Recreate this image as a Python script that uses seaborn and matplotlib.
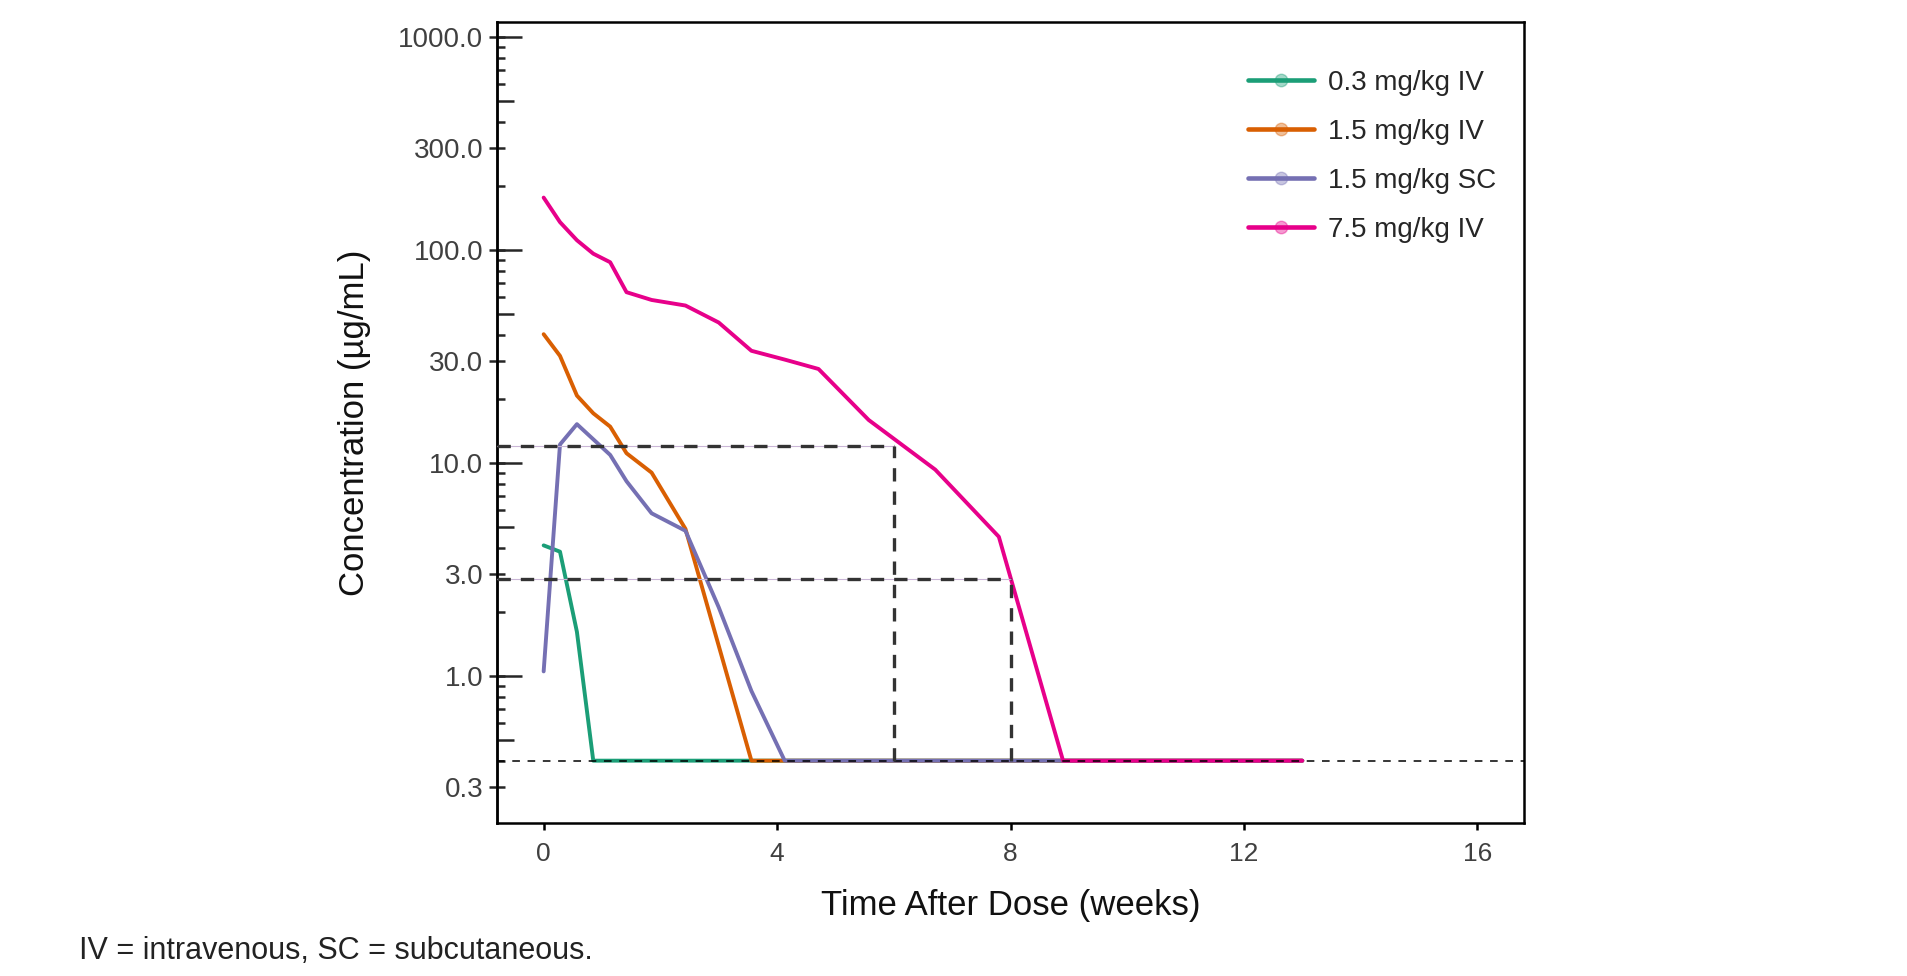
# PK profile: concentration vs time after dose, log y axis
import numpy as np
import pandas as pd
import matplotlib
matplotlib.use('Agg')
import matplotlib.pyplot as plt
from matplotlib.lines import Line2D
from matplotlib.ticker import FixedLocator, NullLocator, FixedFormatter
import seaborn as sns

# Data (weeks, ug/mL)
weeks_03iv = [0.0, 0.28, 0.57, 0.85, 13.0]
conc_03iv = [4.1, 3.83, 1.61, 0.4, 0.4]

weeks_15iv = [0.0, 0.28, 0.57, 0.85, 1.14, 1.42, 1.85, 2.43, 3.56, 13.0]
conc_15iv = [40.2, 31.8, 20.7, 17.1, 14.8, 11.1, 9.0, 4.9, 0.4, 0.4]

weeks_15sc = [0.0, 0.28, 0.57, 1.14, 1.42, 1.85, 2.43, 3.0, 3.56, 4.13, 13.0]
conc_15sc = [1.05, 12.2, 15.2, 10.9, 8.2, 5.8, 4.8, 2.1, 0.85, 0.4, 0.4]

weeks_75iv = [0.0, 0.28, 0.57, 0.85, 1.14, 1.42, 1.85, 2.43, 3.0, 3.56,
              4.14, 4.71, 5.57, 6.71, 7.8, 8.9, 13.0]
conc_75iv = [176, 135, 111, 96, 87.5, 63.3, 58.2, 54.8, 45.6, 33.6,
             30.5, 27.6, 15.9, 9.3, 4.5, 0.4, 0.4]

groups = ['0.3 mg/kg IV', '1.5 mg/kg IV', '1.5 mg/kg SC', '7.5 mg/kg IV']
colors = ['#1b9e77', '#d95f02', '#7570b3', '#e7008a']

lloq = 0.4
ref_week = [6, 8]
ref_conc = [12.0, 2.85]

ytick_vals = [0.3, 1, 3, 10, 30, 100, 300, 1000]
xtick_vals = [0, 4, 8, 12, 16]

frames = []
for g, w, c in zip(groups,
                   [weeks_03iv, weeks_15iv, weeks_15sc, weeks_75iv],
                   [conc_03iv, conc_15iv, conc_15sc, conc_75iv]):
    frames.append(pd.DataFrame({'week': w, 'conc': c, 'group': g}))
df = pd.concat(frames, ignore_index=True)

sns.set_style('ticks')
plt.rcParams['font.family'] = ['Liberation Sans', 'DejaVu Sans']

fig = plt.figure(figsize=(19.07, 9.76), dpi=100)
ax = fig.add_axes([0.2606, 0.1568, 0.5386, 0.8207])

sns.lineplot(data=df, x='week', y='conc', hue='group', hue_order=groups,
             palette=colors, estimator=None, sort=False, linewidth=2.8,
             legend=False, ax=ax)

ax.set_yscale('log')
ax.set_ylim(0.204, 1175)
ax.set_xlim(-0.8, 16.8)

# reference lines
ax.axhline(lloq, color='black', lw=1.1, dashes=(5, 5), zorder=5)
x0 = ax.get_xlim()[0]
for wk, cc in zip(ref_week, ref_conc):
    ax.plot([x0, wk], [cc, cc], color='#c9b6d6', lw=0.8, zorder=4)
    ax.plot([x0, wk], [cc, cc], color='#333333', lw=2.4, dashes=(4, 3),
            zorder=5)
    ax.plot([wk, wk], [lloq, cc], color='#333333', lw=2.4, dashes=(4, 3),
            zorder=5)

# axes frame and ticks
for sp in ax.spines.values():
    sp.set_color('black')
    sp.set_linewidth(1.8)

ax.set_xticks(xtick_vals)
ax.set_xticklabels([str(v) for v in xtick_vals])
ax.tick_params(axis='x', direction='out', length=5, width=1.8, pad=9,
               labelsize=19, labelcolor='#404040', color='black')
ax.xaxis.set_minor_locator(NullLocator())

ax.yaxis.set_major_locator(FixedLocator(ytick_vals))
ax.yaxis.set_major_formatter(FixedFormatter(['%.1f' % v for v in ytick_vals]))
minor = [m * 10.0 ** e for e in range(-1, 3) for m in [2, 4, 6, 7, 8, 9]]
ax.yaxis.set_minor_locator(FixedLocator(minor))
ax.tick_params(axis='y', which='major', direction='inout', length=11.5,
               width=1.8, pad=4, labelsize=20, labelcolor='#404040')
ax.tick_params(axis='y', which='minor', direction='in', length=6, width=1.8)

# longer inner ticks at decades and at 5x
sec = ax.secondary_yaxis('left')
sec.yaxis.set_major_locator(FixedLocator([1, 10, 100, 1000]))
sec.yaxis.set_minor_locator(FixedLocator([0.5, 5, 50, 500]))
sec.tick_params(axis='y', which='major', direction='in', length=18,
                width=1.8, labelleft=False)
sec.tick_params(axis='y', which='minor', direction='in', length=12,
                width=1.8, labelleft=False)
sec.spines['left'].set_linewidth(1.8)

ax.set_xlabel('Time After Dose (weeks)', fontsize=25, color='#111111')
ax.set_ylabel('Concentration (\u00b5g/mL)', fontsize=25, color='#111111')
ax.xaxis.set_label_coords(0.5, -0.083)
ax.yaxis.set_label_coords(-0.123, 0.5)

handles = [Line2D([0], [0], color=c, lw=3.3, marker='o', markersize=9,
                  markerfacecolor=matplotlib.colors.to_rgba(c, 0.4),
                  markeredgecolor=matplotlib.colors.to_rgba(c, 0.4))
           for c in colors]
ax.legend(handles, groups, loc='upper left', bbox_to_anchor=(0.731, 0.94),
          frameon=False, fontsize=20, handlelength=2.4, handletextpad=0.5,
          labelspacing=0.83, borderpad=0, borderaxespad=0)

fig.text(79 / 1907, 1 - 951 / 976, 'IV = intravenous, SC = subcutaneous.',
         family=['Liberation Sans Narrow', 'Liberation Sans'], fontsize=22,
         va='center', ha='left', color='#222222')

fig.savefig('out.png', dpi=100)
